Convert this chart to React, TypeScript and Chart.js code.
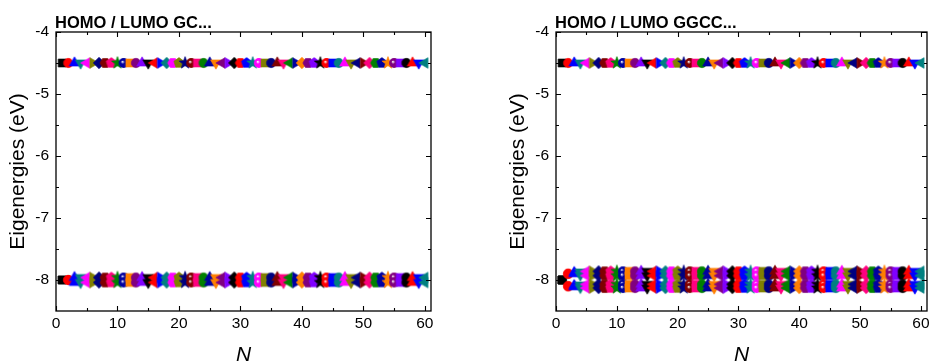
import React, { useEffect, useRef } from 'react';
import { Chart, registerables } from 'chart.js';

Chart.register(...registerables);

// ---------- data ----------
const N_VALUES = [
  1, 2, 3, 4, 5, 6, 7, 8, 9, 10,
  11, 12, 13, 14, 15, 16, 17, 18, 19, 20,
  21, 22, 23, 24, 25, 26, 27, 28, 29, 30,
  31, 32, 33, 34, 35, 36, 37, 38, 39, 40,
  41, 42, 43, 44, 45, 46, 47, 48, 49, 50,
  51, 52, 53, 54, 55, 56, 57, 58, 59, 60,
];

// GC panel: LUMO level and upper / lower edge of the HOMO cluster (eV)
const GC_LUMO = [
  -4.5, -4.5, -4.5, -4.5, -4.5, -4.5, -4.5, -4.5, -4.5, -4.5,
  -4.5, -4.5, -4.5, -4.5, -4.5, -4.5, -4.5, -4.5, -4.5, -4.5,
  -4.5, -4.5, -4.5, -4.5, -4.5, -4.5, -4.5, -4.5, -4.5, -4.5,
  -4.5, -4.5, -4.5, -4.5, -4.5, -4.5, -4.5, -4.5, -4.5, -4.5,
  -4.5, -4.5, -4.5, -4.5, -4.5, -4.5, -4.5, -4.5, -4.5, -4.5,
  -4.5, -4.5, -4.5, -4.5, -4.5, -4.5, -4.5, -4.5, -4.5, -4.5,
];
const GC_HOMO_TOP = [
  -8.0, -8.0, -7.96, -7.96, -7.96, -7.96, -7.96, -7.96, -7.96, -7.96,
  -7.96, -7.96, -7.96, -7.96, -7.96, -7.96, -7.96, -7.96, -7.96, -7.96,
  -7.96, -7.96, -7.96, -7.96, -7.96, -7.96, -7.96, -7.96, -7.96, -7.96,
  -7.96, -7.96, -7.96, -7.96, -7.96, -7.96, -7.96, -7.96, -7.96, -7.96,
  -7.96, -7.96, -7.96, -7.96, -7.96, -7.96, -7.96, -7.96, -7.96, -7.96,
  -7.96, -7.96, -7.96, -7.96, -7.96, -7.96, -7.96, -7.96, -7.96, -7.96,
];
const GC_HOMO_BOTTOM = [
  -8.0, -8.0, -8.04, -8.04, -8.04, -8.04, -8.04, -8.04, -8.04, -8.04,
  -8.04, -8.04, -8.04, -8.04, -8.04, -8.04, -8.04, -8.04, -8.04, -8.04,
  -8.04, -8.04, -8.04, -8.04, -8.04, -8.04, -8.04, -8.04, -8.04, -8.04,
  -8.04, -8.04, -8.04, -8.04, -8.04, -8.04, -8.04, -8.04, -8.04, -8.04,
  -8.04, -8.04, -8.04, -8.04, -8.04, -8.04, -8.04, -8.04, -8.04, -8.04,
  -8.04, -8.04, -8.04, -8.04, -8.04, -8.04, -8.04, -8.04, -8.04, -8.04,
];

// GGCC panel: LUMO level and two split HOMO bands (top / bottom edge of each)
const GGCC_LUMO = [
  -4.5, -4.5, -4.5, -4.5, -4.5, -4.5, -4.5, -4.5, -4.5, -4.5,
  -4.5, -4.5, -4.5, -4.5, -4.5, -4.5, -4.5, -4.5, -4.5, -4.5,
  -4.5, -4.5, -4.5, -4.5, -4.5, -4.5, -4.5, -4.5, -4.5, -4.5,
  -4.5, -4.5, -4.5, -4.5, -4.5, -4.5, -4.5, -4.5, -4.5, -4.5,
  -4.5, -4.5, -4.5, -4.5, -4.5, -4.5, -4.5, -4.5, -4.5, -4.5,
  -4.5, -4.5, -4.5, -4.5, -4.5, -4.5, -4.5, -4.5, -4.5, -4.5,
];
const GGCC_UPPER_TOP = [
  -8.0, -7.9, -7.88, -7.87, -7.86, -7.86, -7.86, -7.86, -7.86, -7.86,
  -7.86, -7.86, -7.86, -7.86, -7.86, -7.86, -7.86, -7.86, -7.86, -7.86,
  -7.86, -7.86, -7.86, -7.86, -7.86, -7.86, -7.86, -7.86, -7.86, -7.86,
  -7.86, -7.86, -7.86, -7.86, -7.86, -7.86, -7.86, -7.86, -7.86, -7.86,
  -7.86, -7.86, -7.86, -7.86, -7.86, -7.86, -7.86, -7.86, -7.86, -7.86,
  -7.86, -7.86, -7.86, -7.86, -7.86, -7.86, -7.86, -7.86, -7.86, -7.86,
];
const GGCC_UPPER_BOTTOM = [
  -8.0, -7.9, -7.9, -7.92, -7.93, -7.93, -7.93, -7.93, -7.93, -7.93,
  -7.93, -7.93, -7.93, -7.93, -7.93, -7.93, -7.93, -7.93, -7.93, -7.93,
  -7.93, -7.93, -7.93, -7.93, -7.93, -7.93, -7.93, -7.93, -7.93, -7.93,
  -7.93, -7.93, -7.93, -7.93, -7.93, -7.93, -7.93, -7.93, -7.93, -7.93,
  -7.93, -7.93, -7.93, -7.93, -7.93, -7.93, -7.93, -7.93, -7.93, -7.93,
  -7.93, -7.93, -7.93, -7.93, -7.93, -7.93, -7.93, -7.93, -7.93, -7.93,
];
const GGCC_LOWER_TOP = [
  -8.0, -8.1, -8.09, -8.08, -8.07, -8.07, -8.07, -8.07, -8.07, -8.07,
  -8.07, -8.07, -8.07, -8.07, -8.07, -8.07, -8.07, -8.07, -8.07, -8.07,
  -8.07, -8.07, -8.07, -8.07, -8.07, -8.07, -8.07, -8.07, -8.07, -8.07,
  -8.07, -8.07, -8.07, -8.07, -8.07, -8.07, -8.07, -8.07, -8.07, -8.07,
  -8.07, -8.07, -8.07, -8.07, -8.07, -8.07, -8.07, -8.07, -8.07, -8.07,
  -8.07, -8.07, -8.07, -8.07, -8.07, -8.07, -8.07, -8.07, -8.07, -8.07,
];
const GGCC_LOWER_BOTTOM = [
  -8.0, -8.1, -8.11, -8.12, -8.13, -8.13, -8.13, -8.13, -8.13, -8.13,
  -8.13, -8.13, -8.13, -8.13, -8.13, -8.13, -8.13, -8.13, -8.13, -8.13,
  -8.13, -8.13, -8.13, -8.13, -8.13, -8.13, -8.13, -8.13, -8.13, -8.13,
  -8.13, -8.13, -8.13, -8.13, -8.13, -8.13, -8.13, -8.13, -8.13, -8.13,
  -8.13, -8.13, -8.13, -8.13, -8.13, -8.13, -8.13, -8.13, -8.13, -8.13,
  -8.13, -8.13, -8.13, -8.13, -8.13, -8.13, -8.13, -8.13, -8.13, -8.13,
];

const X_TICKS = [0, 10, 20, 30, 40, 50, 60];
const X_MINOR = [5, 15, 25, 35, 45, 55];
const Y_TICKS = [-8, -7, -6, -5, -4];
const Y_MINOR = [-7.5, -6.5, -5.5, -4.5];

// ---------- styles ----------
const FONT = "'Liberation Sans', Arial, Helvetica, sans-serif";
const COLORS = [
  '#000000', '#FF0000', '#0000FF', '#008080', '#FF00FF', '#808000', '#000080',
  '#800000', '#FF0080', '#008000', '#0000A0', '#FF8000', '#800080', '#8000FF',
];
const SHAPES = [
  'square', 'circle', 'triUp', 'triDown', 'triLeft', 'triRight',
  'diamond', 'hexagon', 'pentagon', 'star', 'sphere',
];

function polyPath(ctx: CanvasRenderingContext2D, cx: number, cy: number, r: number, n: number, startDeg: number) {
  ctx.beginPath();
  for (let i = 0; i < n; i++) {
    const a = ((startDeg + (i * 360) / n) * Math.PI) / 180;
    const px = cx + r * Math.cos(a);
    const py = cy + r * Math.sin(a);
    if (i === 0) ctx.moveTo(px, py);
    else ctx.lineTo(px, py);
  }
  ctx.closePath();
}

function makeMarker(shape: string, color: string): HTMLCanvasElement {
  const S = 18;
  const c = S / 2;
  const cv = document.createElement('canvas');
  cv.width = S;
  cv.height = S;
  const ctx = cv.getContext('2d') as CanvasRenderingContext2D;
  ctx.fillStyle = color;
  ctx.strokeStyle = color;
  ctx.lineWidth = 0.6;
  switch (shape) {
    case 'square':
      ctx.beginPath();
      ctx.rect(c - 4, c - 4, 8, 8);
      break;
    case 'circle':
      ctx.beginPath();
      ctx.arc(c, c, 4.7, 0, Math.PI * 2);
      break;
    case 'triUp':
      polyPath(ctx, c, c, 6.2, 3, -90);
      break;
    case 'triDown':
      polyPath(ctx, c, c, 6.2, 3, 90);
      break;
    case 'triLeft':
      polyPath(ctx, c, c, 6.2, 3, 180);
      break;
    case 'triRight':
      polyPath(ctx, c, c, 6.2, 3, 0);
      break;
    case 'diamond':
      polyPath(ctx, c, c, 5.8, 4, -90);
      break;
    case 'hexagon':
      polyPath(ctx, c, c, 5.2, 6, 0);
      break;
    case 'pentagon':
      polyPath(ctx, c, c, 5.4, 5, -90);
      break;
    case 'star': {
      ctx.beginPath();
      for (let i = 0; i < 10; i++) {
        const r = i % 2 === 0 ? 6.4 : 2.7;
        const a = ((-90 + i * 36) * Math.PI) / 180;
        const px = c + r * Math.cos(a);
        const py = c + r * Math.sin(a);
        if (i === 0) ctx.moveTo(px, py);
        else ctx.lineTo(px, py);
      }
      ctx.closePath();
      break;
    }
    case 'sphere': {
      const g = ctx.createRadialGradient(c - 1.3, c - 1.3, 0.2, c, c, 5.1);
      g.addColorStop(0, '#FFFFFF');
      g.addColorStop(0.35, color);
      g.addColorStop(1, color);
      ctx.fillStyle = g;
      ctx.beginPath();
      ctx.arc(c, c, 5, 0, Math.PI * 2);
      ctx.fill();
      return cv;
    }
    default:
      break;
  }
  ctx.fill();
  ctx.stroke();
  return cv;
}

function makeFramePlugin(title: string) {
  return {
    id: 'originFrame',
    afterDatasetsDraw(chart: any) {
      const { ctx, chartArea: a, scales } = chart;
      const xs = scales.x;
      const ys = scales.y;
      ctx.save();
      ctx.strokeStyle = '#000';
      ctx.lineWidth = 1.3;
      ctx.strokeRect(a.left, a.top, a.right - a.left, a.bottom - a.top);
      ctx.lineWidth = 1.1;
      const xt = (v: number, len: number) => {
        const px = Math.round(xs.getPixelForValue(v)) + 0.5;
        ctx.beginPath();
        ctx.moveTo(px, a.bottom);
        ctx.lineTo(px, a.bottom - len);
        ctx.moveTo(px, a.top);
        ctx.lineTo(px, a.top + len);
        ctx.stroke();
      };
      const yt = (v: number, len: number) => {
        const py = Math.round(ys.getPixelForValue(v)) + 0.5;
        ctx.beginPath();
        ctx.moveTo(a.left, py);
        ctx.lineTo(a.left + len, py);
        ctx.moveTo(a.right, py);
        ctx.lineTo(a.right - len, py);
        ctx.stroke();
      };
      X_TICKS.forEach((v) => xt(v, 5));
      X_MINOR.forEach((v) => xt(v, 3));
      Y_TICKS.forEach((v) => yt(v, 5));
      Y_MINOR.forEach((v) => yt(v, 3));

      ctx.fillStyle = '#000';
      ctx.font = `bold 16.5px ${FONT}`;
      ctx.textAlign = 'left';
      ctx.textBaseline = 'alphabetic';
      ctx.fillText(title, a.left - 1, 28);

      ctx.save();
      ctx.translate(a.left - 38, (a.top + a.bottom) / 2);
      ctx.rotate(-Math.PI / 2);
      ctx.font = `21px ${FONT}`;
      ctx.textAlign = 'center';
      ctx.textBaseline = 'middle';
      ctx.fillText('Eigenergies (eV)', 0, 0);
      ctx.restore();

      ctx.font = `italic 21px ${FONT}`;
      ctx.textAlign = 'center';
      ctx.textBaseline = 'middle';
      ctx.fillText('N', (a.left + a.right) / 2, 355);
      ctx.restore();
    },
  };
}

type PanelProps = {
  title: string;
  series: number[][];
  left: number;
  width: number;
  yWidth: number;
  padRight: number;
};

function Panel({ title, series, left, width, yWidth, padRight }: PanelProps) {
  const ref = useRef<HTMLCanvasElement | null>(null);
  useEffect(() => {
    if (!ref.current) return;
    const datasets = N_VALUES.map((n, i) => {
      const pts = series.map((arr) => ({ x: n, y: arr[i] }));
      return {
        label: `N=${n}`,
        data: pts,
        pointStyle: makeMarker(SHAPES[i % SHAPES.length], COLORS[i % COLORS.length]),
        pointRadius: 5,
        showLine: false,
        order: -n,
      };
    });
    const chart = new Chart(ref.current, {
      type: 'scatter',
      data: { datasets } as any,
      options: {
        responsive: false,
        animation: false,
        clip: false as any,
        layout: { padding: { top: 32, right: padRight, left: 0, bottom: 0 } },
        plugins: {
          legend: { display: false },
          tooltip: { enabled: false },
          title: { display: false },
        },
        scales: {
          x: {
            type: 'linear',
            min: 0,
            max: 61,
            grid: { display: false, drawTicks: false },
            border: { display: false },
            ticks: {
              color: '#000',
              padding: 3,
              font: { family: FONT, size: 15.5 },
              callback: (v: any) => String(v),
            },
            afterBuildTicks: (s: any) => {
              s.ticks = X_TICKS.map((v) => ({ value: v }));
            },
            afterFit: (s: any) => {
              s.height = 51;
              s.paddingLeft = 0;
              s.paddingRight = 0;
            },
          },
          y: {
            type: 'linear',
            min: -8.5,
            max: -4,
            grid: { display: false, drawTicks: false },
            border: { display: false },
            ticks: {
              color: '#000',
              padding: 7,
              font: { family: FONT, size: 15.5 },
              callback: (v: any) => String(v),
            },
            afterBuildTicks: (s: any) => {
              s.ticks = Y_TICKS.map((v) => ({ value: v }));
            },
            afterFit: (s: any) => {
              s.width = yWidth;
              s.paddingTop = 0;
              s.paddingBottom = 0;
            },
          },
        },
      } as any,
      plugins: [makeFramePlugin(title)],
    });
    return () => chart.destroy();
  }, []);
  return (
    <canvas
      ref={ref}
      width={width}
      height={362}
      style={{ position: 'absolute', left, top: 0, width, height: 362 }}
    />
  );
}

export default function App() {
  return (
    <div
      style={{
        position: 'absolute',
        left: 0,
        top: 0,
        width: 933,
        height: 362,
        background: '#fff',
        overflow: 'hidden',
      }}
    >
      <Panel
        title="HOMO / LUMO GC..."
        series={[GC_LUMO, GC_HOMO_TOP, GC_HOMO_BOTTOM]}
        left={0}
        width={470}
        yWidth={56}
        padRight={39}
      />
      <Panel
        title="HOMO / LUMO GGCC..."
        series={[GGCC_LUMO, GGCC_UPPER_TOP, GGCC_UPPER_BOTTOM, GGCC_LOWER_TOP, GGCC_LOWER_BOTTOM]}
        left={470}
        width={463}
        yWidth={86}
        padRight={2}
      />
    </div>
  );
}
